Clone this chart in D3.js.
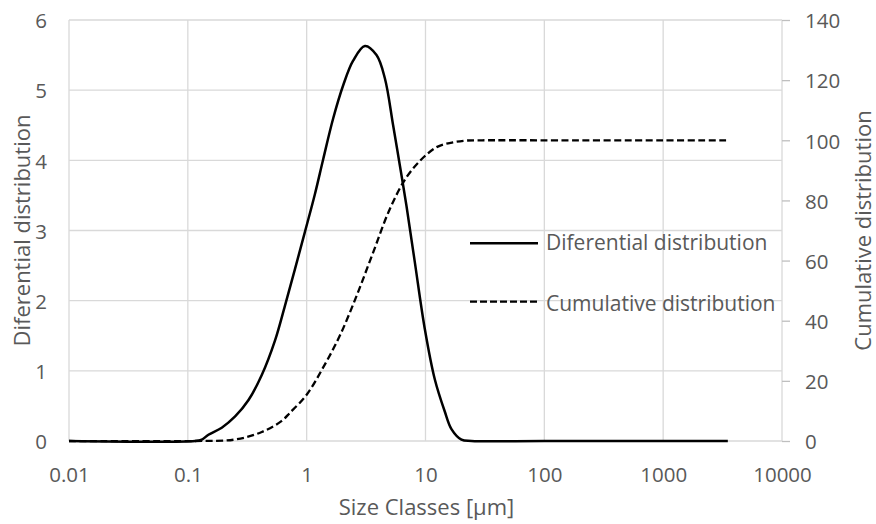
<!DOCTYPE html>
<html>
<head>
<meta charset="utf-8">
<script src="https://cdn.jsdelivr.net/npm/d3@7"></script>
<style>
  html, body { margin: 0; padding: 0; background: #fff; }
  svg { display: block; font-family: "Open Sans", "Noto Sans", sans-serif; }
</style>
</head>
<body>
<svg id="chart" width="876" height="524"></svg>
<script>
// ---- Data ----
const xTickValues = [0.01, 0.1, 1, 10, 100, 1000, 10000];
const xTickLabels = ["0.01", "0.1", "1", "10", "100", "1000", "10000"];
const leftTickValues = [0, 1, 2, 3, 4, 5, 6];
const rightTickValues = [0, 20, 40, 60, 80, 100, 120, 140];

const diffSizes = [0.01, 0.115, 0.131, 0.149, 0.193, 0.25, 0.323, 0.419, 0.541, 0.657, 0.797, 0.967,
  1.174, 1.379, 1.673, 2.03, 2.46, 3.09, 3.87, 4.55, 5.34, 6.08, 6.92, 8.13, 9.86, 11.97, 14.53,
  16.54, 20.07, 24.4, 100, 1000, 3500];
const diffValues = [0, 0, 0.02, 0.09, 0.19, 0.35, 0.58, 0.94, 1.43, 1.93, 2.45, 2.98,
  3.52, 4.02, 4.6, 5.07, 5.42, 5.63, 5.5, 5.17, 4.5, 3.93, 3.35, 2.55, 1.6, 0.88, 0.42,
  0.17, 0.02, 0, 0, 0, 0];

const cumSizes = [0.01, 0.115, 0.25, 0.419, 0.613, 0.72, 1.0, 1.37, 1.89, 2.62, 3.61, 4.98,
  6.89, 9.49, 12.69, 17.0, 22.0, 30, 100, 1000, 3500];
const cumValues = [0, 0, 0.5, 3.0, 6.6, 9.3, 15.4, 24.3, 34.8, 48.1, 62.5, 76.9,
  87.6, 94.1, 97.9, 99.3, 99.9, 100, 100, 100, 100];

const seriesNames = ["Diferential distribution", "Cumulative distribution"];
const xTitle = "Size Classes [µm]";
const leftTitle = "Diferential distribution";
const rightTitle = "Cumulative distribution";

// ---- Layout ----
const W = 876, H = 524;
const plot = { left: 69, right: 782, top: 20, bottom: 441 };
const textColor = "#595959";
const gridColor = "#d9d9d9";
const tickFont = 20.5, legendFont = 21, titleFont = 22;

const svg = d3.select("#chart");
svg.append("rect").attr("width", W).attr("height", H).attr("fill", "#fff");

const x = d3.scaleLog().domain([0.01, 10000]).range([plot.left, plot.right]);
const yL = d3.scaleLinear().domain([0, 6]).range([plot.bottom, plot.top]);
const yR = d3.scaleLinear().domain([0, 140]).range([plot.bottom, plot.top]);

// gridlines
const grid = svg.append("g").attr("stroke", gridColor).attr("stroke-width", 1.3);
grid.selectAll("line.v").data(xTickValues).join("line")
  .attr("x1", d => x(d)).attr("x2", d => x(d))
  .attr("y1", plot.top).attr("y2", plot.bottom);
grid.selectAll("line.h").data(leftTickValues).join("line")
  .attr("x1", plot.left).attr("x2", plot.right)
  .attr("y1", d => yL(d)).attr("y2", d => yL(d));

// axes
const xAxis = svg.append("g").attr("transform", `translate(0,${plot.bottom})`)
  .call(d3.axisBottom(x).tickValues(xTickValues)
    .tickFormat((d, i) => xTickLabels[i]).tickSize(0).tickPadding(26));
const lAxis = svg.append("g").attr("transform", `translate(${plot.left},0)`)
  .call(d3.axisLeft(yL).tickValues(leftTickValues).tickFormat(d3.format("d"))
    .tickSize(0).tickPadding(22));
const rAxis = svg.append("g").attr("transform", `translate(${plot.right},0)`)
  .call(d3.axisRight(yR).tickValues(rightTickValues).tickFormat(d3.format("d"))
    .tickSize(8).tickPadding(15));

[xAxis, lAxis, rAxis].forEach(a => {
  a.select(".domain").remove();
  a.selectAll("text").attr("fill", textColor).style("font-size", tickFont + "px")
    .style("font-family", '"Open Sans", sans-serif');
});
lAxis.selectAll("text").attr("dy", "0.38em");
rAxis.selectAll("text").attr("dy", "0.38em");
rAxis.selectAll(".tick line").attr("stroke", "#bfbfbf").attr("stroke-width", 1.3);

// lines
const smooth = d3.curveCatmullRom.alpha(0.5);
const diffLine = d3.line().x((d, i) => x(diffSizes[i])).y(d => yL(d)).curve(smooth);
const cumLine = d3.line().x((d, i) => x(cumSizes[i])).y(d => yR(d)).curve(smooth);

svg.append("path").datum(diffValues).attr("d", diffLine)
  .attr("fill", "none").attr("stroke", "#000").attr("stroke-width", 2.5)
  .attr("stroke-linejoin", "round");
svg.append("path").datum(cumValues).attr("d", cumLine)
  .attr("fill", "none").attr("stroke", "#000").attr("stroke-width", 2.3)
  .attr("stroke-dasharray", "7,3.5");

// legend
const legend = svg.append("g");
const legendRows = [
  { name: seriesNames[0], y: 243.3, ty: 250.3, dash: null, w: 2.5 },
  { name: seriesNames[1], y: 301.7, ty: 311.2, dash: "7,3", w: 2.3 }
];
legendRows.forEach(r => {
  legend.append("line").attr("x1", 470).attr("x2", 538).attr("y1", r.y).attr("y2", r.y)
    .attr("stroke", "#000").attr("stroke-width", r.w)
    .attr("stroke-dasharray", r.dash);
  legend.append("text").attr("x", 546).attr("y", r.ty)
    .attr("fill", textColor).style("font-size", legendFont + "px").text(r.name);
});

// titles
svg.append("text").attr("x", (plot.left + plot.right) / 2 + 1).attr("y", 515)
  .attr("text-anchor", "middle").attr("fill", textColor).style("font-size", titleFont + "px")
  .text(xTitle);
svg.append("text")
  .attr("transform", `translate(30,${(plot.top + plot.bottom) / 2}) rotate(-90)`)
  .attr("text-anchor", "middle").attr("fill", textColor)
  .style("font-size", titleFont + "px").text(leftTitle);
svg.append("text")
  .attr("transform", `translate(871,${(plot.top + plot.bottom) / 2}) rotate(-90)`)
  .attr("text-anchor", "middle").attr("fill", textColor)
  .style("font-size", titleFont + "px").text(rightTitle);
</script>
</body>
</html>
